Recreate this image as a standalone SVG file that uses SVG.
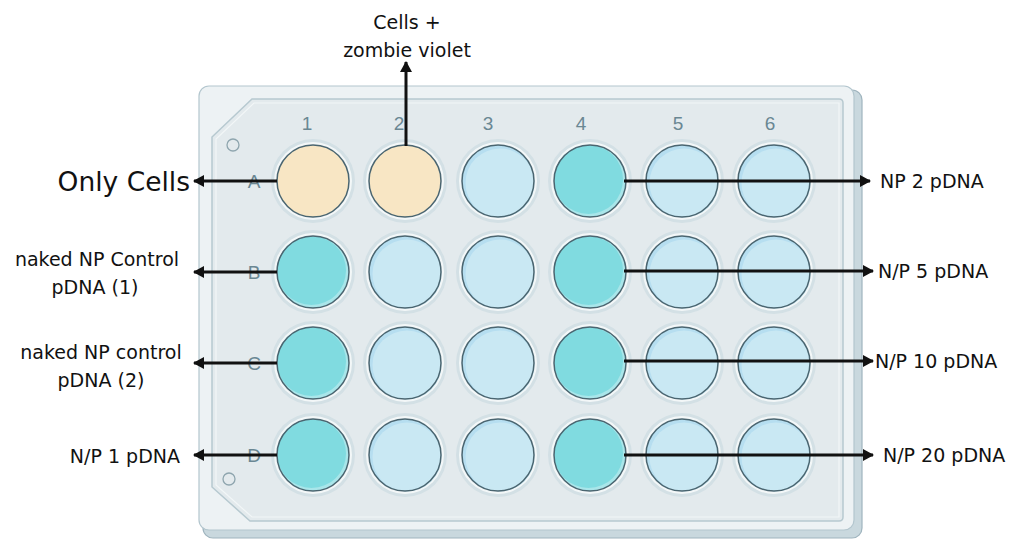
<svg xmlns="http://www.w3.org/2000/svg" width="1014" height="540" viewBox="0 0 1014 540">
<style>
.lbl{font-family:"DejaVu Sans","Noto Sans",sans-serif;font-size:19px;fill:#111}
.big{font-family:"DejaVu Sans","Noto Sans",sans-serif;font-size:26.5px;fill:#111}
.plt{font-family:"Liberation Sans","Noto Sans",sans-serif;font-size:19px;fill:#6a8793}
.edge{fill:none;stroke:#4a6570;stroke-width:1.5}
.arr{stroke:#111;stroke-width:3;fill:none;marker-end:url(#ah)}
</style>
<defs>
<marker id="ah" markerUnits="userSpaceOnUse" markerWidth="12" markerHeight="12" refX="10" refY="6" orient="auto">
<path d="M0,0 L11,6 L0,12 Z" fill="#111"/>
</marker>
<g id="base">
<circle r="42" fill="#d3e0e5"/>
<circle r="39" fill="#f3f7f8"/>
</g>
<g id="beige">
<use href="#base"/>
<circle r="36" fill="#f8e6c4"/>
<circle r="36" class="edge"/>
</g>
<g id="blue">
<use href="#base"/>
<circle r="36" fill="#b6def0"/>
<circle cx="2" cy="2" r="34.5" fill="#c9e8f3"/>
<circle r="36" class="edge"/>
</g>
<g id="teal">
<use href="#base"/>
<circle r="36" fill="#a9e6ea"/>
<circle cx="-1.5" cy="-1.5" r="34.5" fill="#80dbe0"/>
<circle r="36" class="edge"/>
</g>
</defs>
<rect width="1014" height="540" fill="#fff"/>
<g id="plate">
<rect x="203" y="90" width="659" height="448" rx="10" fill="#c9d8de" stroke="#9fb4be" stroke-width="1.2"/>
<rect x="199" y="86" width="655" height="444" rx="10" fill="#edf2f4" stroke="#b3c6ce" stroke-width="1.2"/>
<path d="M252,99 L839,99 Q843,99 843,103 L843,517 Q843,521 839,521 L250,521 L212,487 L212,137 Z" fill="#e3eaed" stroke="#b7c9d0" stroke-width="1.5"/>
<path d="M254,103 L839,103 L839,517 L252,517 L216,485 L216,139 Z" fill="none" stroke="#f2f6f7" stroke-width="1.2"/>
<circle cx="233" cy="145" r="6" fill="none" stroke="#8ea5ae" stroke-width="1.3"/>
<circle cx="229" cy="479" r="6" fill="none" stroke="#8ea5ae" stroke-width="1.3"/>
<g class="plt" text-anchor="middle">
<text x="307" y="130">1</text>
<text x="399" y="130">2</text>
<text x="488" y="130">3</text>
<text x="581" y="130">4</text>
<text x="678" y="130">5</text>
<text x="770" y="130">6</text>
<text x="254" y="188">A</text>
<text x="254" y="279">B</text>
<text x="254" y="370">C</text>
<text x="254" y="462">D</text>
</g>
</g>
<g id="wells">
<g id="A1"><use href="#beige" x="313" y="181"/></g>
<g id="A2"><use href="#beige" x="405" y="181"/></g>
<g id="A3"><use href="#blue" x="498" y="181"/></g>
<g id="A4"><use href="#teal" x="590" y="181"/></g>
<g id="A5"><use href="#blue" x="682" y="181"/></g>
<g id="A6"><use href="#blue" x="774" y="181"/></g>
<g id="B1"><use href="#teal" x="313" y="272"/></g>
<g id="B2"><use href="#blue" x="405" y="272"/></g>
<g id="B3"><use href="#blue" x="498" y="272"/></g>
<g id="B4"><use href="#teal" x="590" y="272"/></g>
<g id="B5"><use href="#blue" x="682" y="272"/></g>
<g id="B6"><use href="#blue" x="774" y="272"/></g>
<g id="C1"><use href="#teal" x="313" y="363"/></g>
<g id="C2"><use href="#blue" x="405" y="363"/></g>
<g id="C3"><use href="#blue" x="498" y="363"/></g>
<g id="C4"><use href="#teal" x="590" y="363"/></g>
<g id="C5"><use href="#blue" x="682" y="363"/></g>
<g id="C6"><use href="#blue" x="774" y="363"/></g>
<g id="D1"><use href="#teal" x="313" y="455"/></g>
<g id="D2"><use href="#blue" x="405" y="455"/></g>
<g id="D3"><use href="#blue" x="498" y="455"/></g>
<g id="D4"><use href="#teal" x="590" y="455"/></g>
<g id="D5"><use href="#blue" x="682" y="455"/></g>
<g id="D6"><use href="#blue" x="774" y="455"/></g>
</g>
<g id="connectors">
<path class="arr" d="M277,181 L194,181"/>
<path class="arr" d="M406,146 L406,62"/>
<path class="arr" d="M277,272 L194,272"/>
<path class="arr" d="M277,363 L194,363"/>
<path class="arr" d="M277,455 L194,455"/>
<path class="arr" d="M624,181 L870,181"/>
<path class="arr" d="M624,271 L873,271"/>
<path class="arr" d="M624,361 L873,361"/>
<path class="arr" d="M624,455 L873,455"/>
</g>
<g id="labels">
<text class="big" x="190" y="191" text-anchor="end">Only Cells</text>
<text class="lbl" x="407" y="29" text-anchor="middle">Cells +</text>
<text class="lbl" x="407" y="57" text-anchor="middle">zombie violet</text>
<text class="lbl" x="97" y="266" text-anchor="middle">naked NP Control</text>
<text class="lbl" x="95" y="294" text-anchor="middle">pDNA (1)</text>
<text class="lbl" x="101" y="359" text-anchor="middle">naked NP control</text>
<text class="lbl" x="101" y="387" text-anchor="middle">pDNA (2)</text>
<text class="lbl" x="180" y="463" text-anchor="end">N/P 1 pDNA</text>
<text class="lbl" x="880" y="188">NP 2 pDNA</text>
<text class="lbl" x="878" y="278">N/P 5 pDNA</text>
<text class="lbl" x="875" y="368">N/P 10 pDNA</text>
<text class="lbl" x="883" y="462">N/P 20 pDNA</text>
</g>
</svg>
